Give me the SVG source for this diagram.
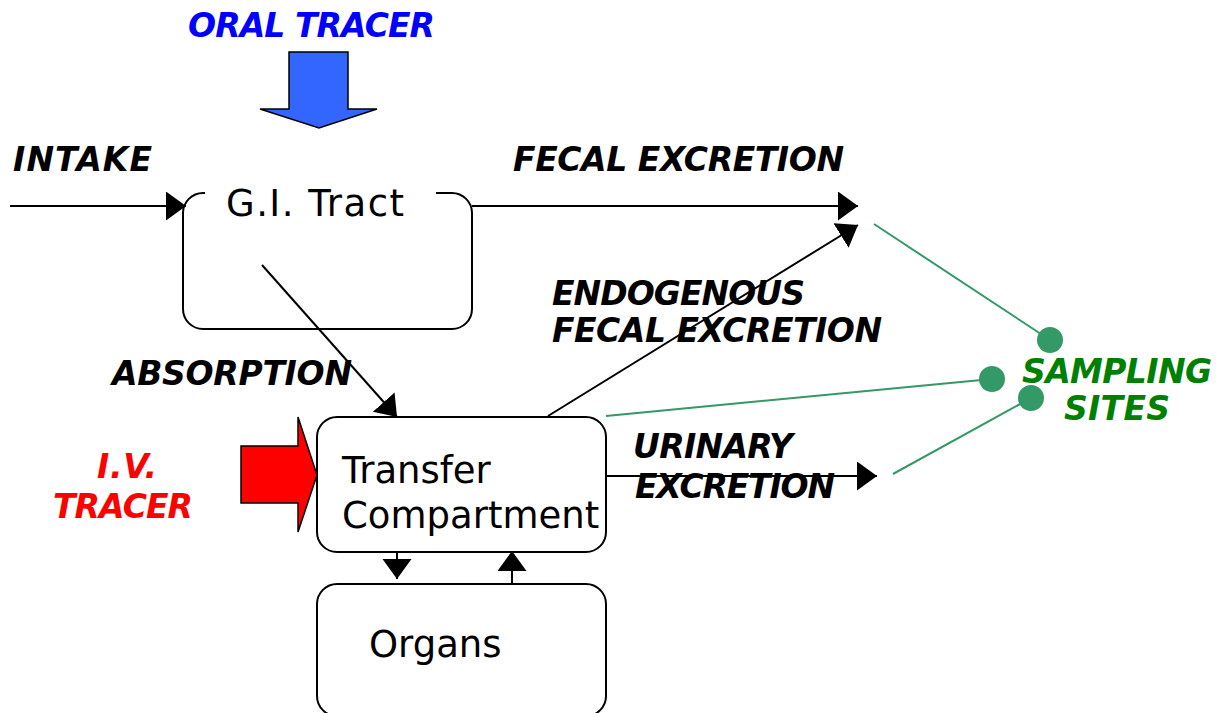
<svg xmlns="http://www.w3.org/2000/svg" width="1224" height="713" viewBox="0 0 1224 713">
<style>
.lbl{font-family:"DejaVu Sans","Verdana",sans-serif;font-weight:bold;font-style:italic;font-size:33px;fill:#000}
.blue{fill:#0000FF}
.red{fill:#FF0000}
.green{fill:#008000}
.node{font-family:"DejaVu Sans","Verdana",sans-serif;font-size:37px;fill:#000}
.box{fill:#fff;stroke:#000;stroke-width:2}
.conn{stroke:#000;stroke-width:2;fill:none}
.samp{stroke:#339966;stroke-width:2;fill:none}
.dot{fill:#339966}
</style>
<defs>
<marker id="ah" markerUnits="userSpaceOnUse" markerWidth="22" markerHeight="30" refX="20" refY="14.5" orient="auto">
<path d="M0,0 L20,14.5 L0,29 z" fill="#000"/>
</marker>
</defs>
<rect width="1224" height="713" fill="#fff"/>

<g id="oral-tracer">
<polygon points="289,52 348,52 348,109 377,109 319,128 260,109 289,109" fill="#3366FF" stroke="#000" stroke-width="1.5"/>
<text class="lbl blue" x="188" y="37" textLength="247">ORAL TRACER</text>
</g>

<g id="iv-tracer">
<polygon points="241,446 298,446 298,417 317,475 298,532 298,503 241,503" fill="#FF0000" stroke="#000" stroke-width="1.5"/>
<text class="lbl red" x="97" y="478" textLength="60">I.V.</text>
<text class="lbl red" x="53" y="518" textLength="140">TRACER</text>
</g>

<g id="gi-tract">
<path class="box" d="M436,193 L452,193 A20,20 0 0 1 472,213 L472,309 A20,20 0 0 1 452,329 L203,329 A20,20 0 0 1 183,309 L183,213 A20,20 0 0 1 203,193 L205,193"/>
<text class="node" x="226" y="216" textLength="178">G.I. Tract</text>
</g>

<g id="transfer-compartment">
<rect class="box" x="317" y="417" width="289" height="135" rx="20" ry="20"/>
<text class="node" x="342" y="483">Transfer</text>
<text class="node" x="342" y="528">Compartment</text>
</g>

<g id="organs">
<rect class="box" x="317" y="584" width="289" height="132" rx="20" ry="20"/>
<text class="node" x="369" y="657">Organs</text>
</g>

<g id="connectors">
<line class="conn" x1="10" y1="206" x2="186" y2="206" marker-end="url(#ah)"/>
<line class="conn" x1="472" y1="206" x2="858" y2="206" marker-end="url(#ah)"/>
<line class="conn" x1="548" y1="416" x2="858" y2="225" marker-end="url(#ah)"/>
<line class="conn" x1="262" y1="265" x2="397" y2="417" marker-end="url(#ah)"/>
<line class="conn" x1="397" y1="552" x2="397" y2="579" marker-end="url(#ah)"/>
<line class="conn" x1="512" y1="584" x2="512" y2="551" marker-end="url(#ah)"/>
<line class="conn" x1="606" y1="476" x2="877" y2="476" marker-end="url(#ah)"/>
</g>

<g id="connector-labels">
<text class="lbl" x="13" y="171" textLength="139">INTAKE</text>
<text class="lbl" x="513" y="171" textLength="331">FECAL EXCRETION</text>
<text class="lbl" x="552" y="305" textLength="253">ENDOGENOUS</text>
<text class="lbl" x="552" y="342" textLength="330">FECAL EXCRETION</text>
<text class="lbl" x="112" y="385" textLength="240">ABSORPTION</text>
<text class="lbl" x="633" y="458" textLength="160">URINARY</text>
<text class="lbl" x="635" y="498" textLength="200">EXCRETION</text>
</g>

<g id="sampling-sites">
<line class="samp" x1="874" y1="224" x2="1050" y2="340"/>
<line class="samp" x1="606" y1="416" x2="992" y2="379"/>
<line class="samp" x1="893" y1="474" x2="1031" y2="398"/>
<circle class="dot" cx="1050" cy="340" r="13"/>
<circle class="dot" cx="992" cy="379" r="13"/>
<circle class="dot" cx="1031" cy="398" r="13"/>
<text class="lbl green" x="1022" y="383" textLength="190">SAMPLING</text>
<text class="lbl green" x="1064" y="420" textLength="106">SITES</text>
</g>
</svg>
